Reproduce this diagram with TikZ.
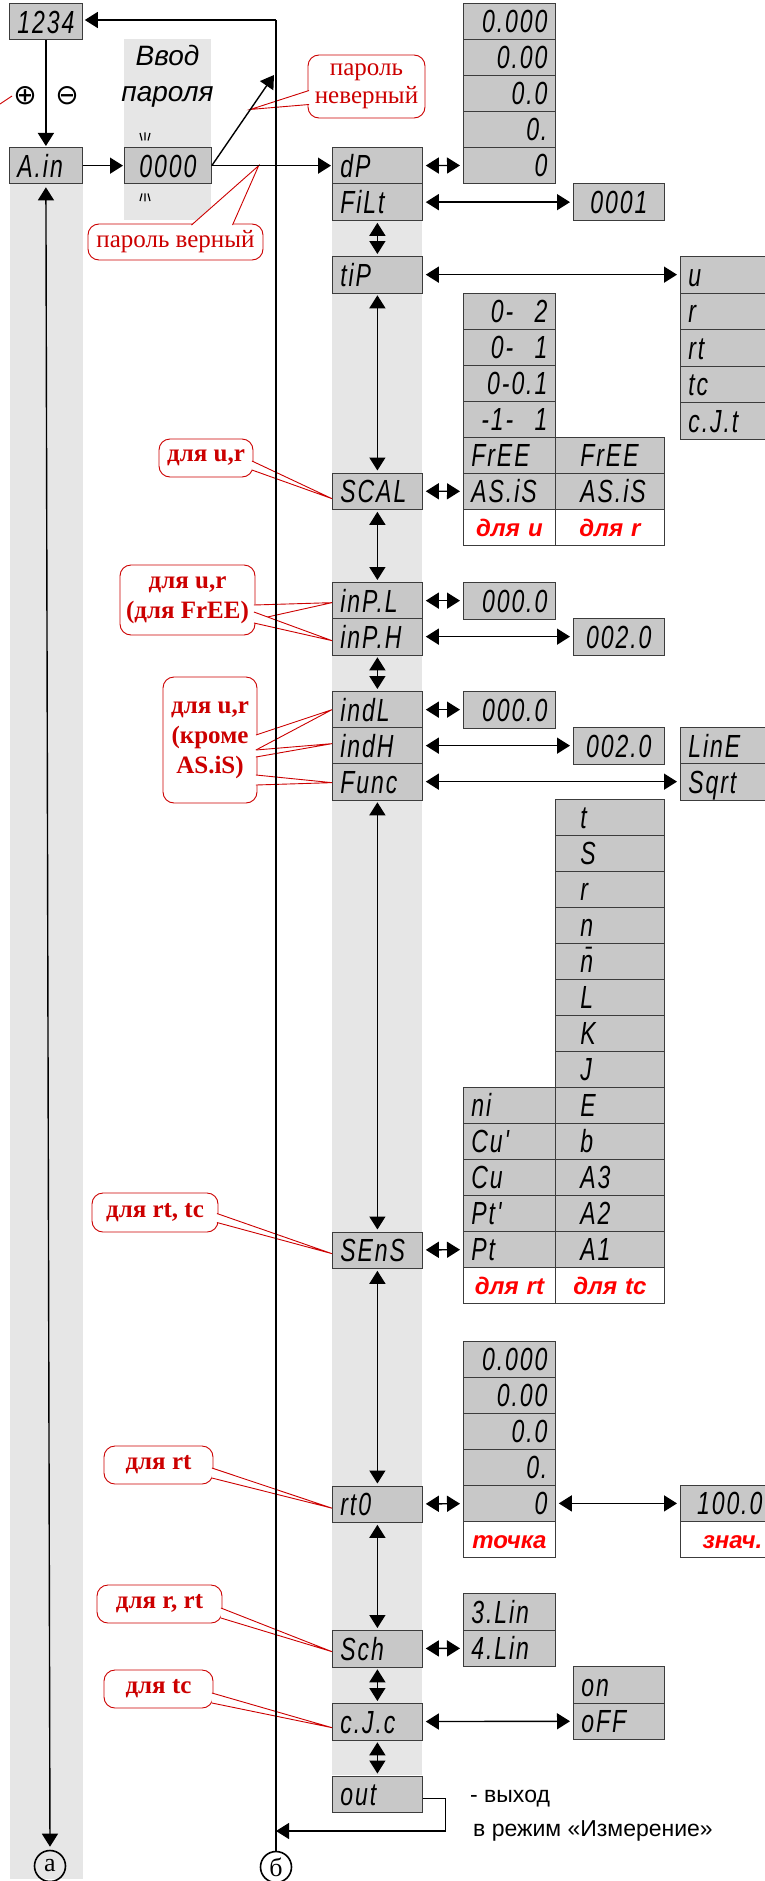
\documentclass[tikz,border=0pt]{standalone}
\usepackage{fontspec}
\setmainfont{Liberation Serif}
\newfontfamily\segf{Liberation Sans}[FakeStretch=0.72, LetterSpace=6]
\newfontfamily\sansf{Liberation Sans}
\newfontfamily\symf{DejaVu Sans}
\usetikzlibrary{arrows.meta,calc}
\definecolor{bgray}{RGB}{200,200,200}
\definecolor{lgray}{RGB}{230,230,230}
\definecolor{bline}{RGB}{60,60,60}
\definecolor{cred}{RGB}{204,0,0}
\definecolor{lred}{RGB}{255,0,0}
\tikzset{
 box/.style={draw=bline, fill=bgray, line width=0.8pt, anchor=north west, minimum height=36.5pt,
   inner xsep=8pt, inner ysep=0pt, text height=23pt, text depth=0pt,
   font=\segf\itshape\fontsize{32}{32}\selectfont},
 L/.style={text width=#1, align=left},
 R/.style={text width=#1, align=right},
 C/.style={text width=#1, align=center},
 tcol/.style={text width=59pt, inner xsep=25pt, align=left},
 note/.style={box, fill=white, text=lred, text height=19pt, font=\sansf\bfseries\itshape\fontsize{24}{24}\selectfont},
 arr/.style={-{Triangle[length=13pt,width=16pt]}, line width=1.4pt},
 darr/.style={{Triangle[length=13pt,width=16pt]}-{Triangle[length=13pt,width=16pt]}, line width=1.4pt, shorten <=3pt, shorten >=3pt},
 callout/.style={draw=cred, fill=white, line width=0.9pt, rounded corners=11pt, align=center, text=cred, inner sep=0pt,
   font=\bfseries\fontsize{25}{30}\selectfont},
 cptr/.style={draw=cred, line width=0.9pt},
 circ/.style={circle, draw, line width=1.6pt, minimum size=31pt, inner sep=0pt, font=\fontsize{26}{26}\selectfont},
}
\newcommand\ptr[3]{\fill[white] #1 -- #3 -- #2 -- cycle; \draw[cptr] #1 -- #3 -- #2;}
\begin{document}
\begin{tikzpicture}[x=1pt,y=-1pt]
\useasboundingbox (0,0) rectangle (765,1881);
% backgrounds
\fill[lgray] (10,183) rectangle (83,1879);
\fill[lgray] (124,39) rectangle (211,220);
\fill[lgray] (332,147) rectangle (422,1775);

% password area
\node[font=\sansf\itshape\fontsize{28}{28}\selectfont, anchor=base, inner sep=0pt] (vvod) at (167.5,66) {Ввод};
\node[font=\sansf\itshape\fontsize{28}{28}\selectfont, anchor=base, inner sep=0pt] (parolya) at (167.5,102) {пароля};
\draw[line width=1.2pt] (140,133) -- (142,140.5) (145,132.5) -- (145,140.5) (150,133) -- (148,140.5);
\draw[line width=1.2pt] (140,201) -- (142,193.5) (145,193.5) -- (145,201.5) (150,201) -- (148,193.5);

% left nodes
\node[box, C=61pt, inner xsep=6pt] (n1234) at (9,3) {1234};
\node[box, L=57pt] (ain) at (9,147) {A.in};
\node[box, C=71pt] (pw) at (124,147) {0000};
\node[font=\symf\fontsize{28}{28}\selectfont, inner sep=1pt] (plus) at (25,96) {⊕};
\node[font=\symf\fontsize{28}{28}\selectfont, inner sep=1pt] (minus) at (67,96) {⊖};
\node[circ] (ca) at (50,1866) {а};
\node[circ] (cb) at (276,1867) {б};

% main column
\node[box, L=74pt] (dP) at (332,147) {dP};
\node[box, L=74pt] (FiLt) at (332,183.5) {FiLt};
\node[box, L=74pt] (tiP) at (332,256) {tiP};
\node[box, L=74pt] (SCAL) at (332,472.5) {SCAL};
\node[box, L=74pt] (inPL) at (332,582) {inP.L};
\node[box, L=74pt] (inPH) at (332,618) {inP.H};
\node[box, L=74pt] (indL) at (332,691) {indL};
\node[box, L=74pt] (indH) at (332,727) {indH};
\node[box, L=74pt] (Func) at (332,763) {Func};
\node[box, L=74pt] (SEnS) at (332,1231.5) {SEnS};
\node[box, L=74pt] (rt0) at (332,1485.5) {rt0};
\node[box, L=74pt] (Sch) at (332,1630) {Sch};
\node[box, L=74pt] (cJc) at (332,1703) {c.J.c};
\node[box, L=74pt] (out) at (332,1775.5) {out};

% dP options
\node[box, R=76pt, minimum height=36pt] (dp1) at (463,3) {0.000};
\node[box, R=76pt, minimum height=36pt] (dp2) at (463,39) {0.00};
\node[box, R=76pt, minimum height=36pt] (dp3) at (463,75) {0.0};
\node[box, R=76pt, minimum height=36pt] (dp4) at (463,111) {0.};
\node[box, R=76pt, minimum height=36pt] (dp5) at (463,147) {0};
% FiLt option
\node[box, C=75pt] (fl1) at (573,183.5) {0001};
% tiP options
\node[box, L=74pt] (tp1) at (680,256) {u};
\node[box, L=74pt] (tp2) at (680,292.5) {r};
\node[box, L=74pt] (tp3) at (680,329) {rt};
\node[box, L=74pt] (tp4) at (680,365.5) {tc};
\node[box, L=74pt] (tp5) at (680,402) {c.J.t};
% SCAL options
\node[box, R=76pt, minimum height=36pt] (sc1) at (463,293) {0-~~2};
\node[box, R=76pt, minimum height=36pt] (sc2) at (463,329) {0-~~1};
\node[box, R=76pt, minimum height=36pt] (sc3) at (463,365) {0-0.1};
\node[box, R=76pt, minimum height=36pt] (sc4) at (463,401) {-1-~~1};
\node[box, L=76pt, minimum height=36pt] (sc5) at (463,437) {FrEE};
\node[box, L=76pt, minimum height=36pt] (sc6) at (463,473) {AS.iS};
\node[note, C=76pt, minimum height=36pt] (sc7) at (463,509) {для u};
\node[box, tcol, minimum height=36pt] (sr5) at (555,437) {FrEE};
\node[box, tcol, minimum height=36pt] (sr6) at (555,473) {AS.iS};
\node[note, C=93pt, minimum height=36pt] (sr7) at (555,509) {для r};
% inP / ind options
\node[box, R=76pt] (ipl1) at (463,582) {000.0};
\node[box, C=75pt] (iph1) at (573,618) {002.0};
\node[box, R=76pt] (idl1) at (463,691) {000.0};
\node[box, C=75pt] (idh1) at (573,727) {002.0};
\node[box, L=74pt] (fn1) at (680,727) {LinE};
\node[box, L=74pt] (fn2) at (680,763) {Sqrt};
% SEnS options: thermocouples
\node[box, tcol, minimum height=36pt] (tc1) at (555,799) {t};
\node[box, tcol, minimum height=36pt] (tc2) at (555,835) {S};
\node[box, tcol, minimum height=36pt] (tc3) at (555,871) {r};
\node[box, tcol, minimum height=36pt] (tc4) at (555,907) {n};
\node[box, tcol, minimum height=36pt] (tc5) at (555,943) {\={n}};
\node[box, tcol, minimum height=36pt] (tc6) at (555,979) {L};
\node[box, tcol, minimum height=36pt] (tc7) at (555,1015) {K};
\node[box, tcol, minimum height=36pt] (tc8) at (555,1051) {J};
\node[box, tcol, minimum height=36pt] (tc9) at (555,1087) {E};
\node[box, tcol, minimum height=36pt] (tc10) at (555,1123) {b};
\node[box, tcol, minimum height=36pt] (tc11) at (555,1159) {A3};
\node[box, tcol, minimum height=36pt] (tc12) at (555,1195) {A2};
\node[box, tcol, minimum height=36pt] (tc13) at (555,1231) {A1};
\node[note, C=93pt, minimum height=36pt] (tc14) at (555,1267) {для tc};
% SEnS options: RTD
\node[box, L=76pt, minimum height=36pt] (rs1) at (463,1087) {ni};
\node[box, L=76pt, minimum height=36pt] (rs2) at (463,1123) {Cu'};
\node[box, L=76pt, minimum height=36pt] (rs3) at (463,1159) {Cu};
\node[box, L=76pt, minimum height=36pt] (rs4) at (463,1195) {Pt'};
\node[box, L=76pt, minimum height=36pt] (rs5) at (463,1231) {Pt};
\node[note, C=76pt, minimum height=36pt] (rs6) at (463,1267) {для rt};
% rt0 options
\node[box, R=76pt, minimum height=36pt] (rp1) at (463,1341) {0.000};
\node[box, R=76pt, minimum height=36pt] (rp2) at (463,1377) {0.00};
\node[box, R=76pt, minimum height=36pt] (rp3) at (463,1413) {0.0};
\node[box, R=76pt, minimum height=36pt] (rp4) at (463,1449) {0.};
\node[box, R=76pt, minimum height=36pt] (rp5) at (463,1485) {0};
\node[note, C=76pt, minimum height=36pt] (rp6) at (463,1521) {точка};
\node[box, R=74pt, minimum height=36pt] (val) at (680,1485) {100.0};
\node[note, R=74pt, minimum height=36pt] (val2) at (680,1521) {знач.};
% Sch options
\node[box, L=76pt] (sh1) at (463,1593) {3.Lin};
\node[box, L=76pt] (sh2) at (463,1629.5) {4.Lin};
% c.J.c options
\node[box, L=75pt] (cj1) at (573,1666) {on};
\node[box, L=75pt] (cj2) at (573,1702.5) {oFF};

% exit text
\node[font=\sansf\fontsize{23}{23}\selectfont, anchor=base west, inner sep=0pt] (ex1) at (470,1802) {- выход};
\node[font=\sansf\fontsize{23}{23}\selectfont, anchor=base west, inner sep=0pt] (ex2) at (473,1836) {в режим «Измерение»};

% coordinates
\coordinate (topL) at (276,20);
\coordinate (wrong) at (274,75);
\coordinate (ret) at (276,1831);
\coordinate (redend) at (0,104);

% callouts
\node[callout, minimum width=117pt, minimum height=63pt, font=\mdseries\fontsize{25}{28}\selectfont] (c1) at (366.5,86.5) {пароль\\неверный};
\node[callout, minimum width=175pt, minimum height=36pt, font=\mdseries\fontsize{25}{28}\selectfont] (c2) at (175.5,242) {пароль верный};
\node[callout, minimum width=94pt, minimum height=38pt] (c3) at (206,458) {для u,r};
\node[callout, minimum width=135pt, minimum height=70pt] (c4) at (187.5,600) {для u,r\\(для FrEE)};
\node[callout, minimum width=94pt, minimum height=126pt] (c5) at (210,740) {для u,r\\(кроме\\AS.iS)};
\node[callout, minimum width=126pt, minimum height=39pt] (c6) at (155,1212.5) {для rt, tc};
\node[callout, minimum width=109pt, minimum height=38pt] (c7) at (158.5,1465) {для rt};
\node[callout, minimum width=125pt, minimum height=38pt] (c8) at (159.5,1604) {для r, rt};
\node[callout, minimum width=109pt, minimum height=38pt] (c9) at (158.5,1689) {для tc};

\ptr{([xshift=1.5pt,yshift=-4pt]c1.west)}{([xshift=1.5pt,yshift=-18pt]c1.west)}{($(pw.east)!0.62!(wrong)$)}
\ptr{([yshift=-1.5pt,xshift=16pt]c2.north)}{([yshift=-1.5pt,xshift=57pt]c2.north)}{($(pw.east)!0.39!(pw.east -| dP.west)$)}
\ptr{([xshift=-1.5pt,yshift=-3pt]c3.east)}{([xshift=-1.5pt,yshift=-12pt]c3.east)}{([yshift=-7.5pt]SCAL.west)}
\ptr{([xshift=-1.5pt,yshift=-5pt]c4.east)}{([xshift=-1.5pt,yshift=-20pt]c4.east)}{([yshift=-2pt]inPL.west)}
\ptr{([xshift=-1.5pt,yshift=-12pt]c4.east)}{([xshift=-1.5pt,yshift=-23pt]c4.east)}{([yshift=-4pt]inPH.west)}
\ptr{([xshift=-1.5pt,yshift=5pt]c5.east)}{([xshift=-1.5pt,yshift=-10pt]c5.east)}{(indL.west)}
\ptr{([xshift=-1.5pt,yshift=-10pt]c5.east)}{([xshift=-1.5pt,yshift=-17pt]c5.east)}{([yshift=2pt]indH.west)}
\ptr{([xshift=-1.5pt,yshift=-35pt]c5.east)}{([xshift=-1.5pt,yshift=-45pt]c5.east)}{([yshift=-1pt]Func.west)}
\ptr{([xshift=-1.5pt,yshift=-1pt]c6.east)}{([xshift=-1.5pt,yshift=-10pt]c6.east)}{([yshift=-3.5pt]SEnS.west)}
\ptr{([xshift=-1.5pt,yshift=-3pt]c7.east)}{([xshift=-1.5pt,yshift=-13pt]c7.east)}{([yshift=-4pt]rt0.west)}
\ptr{([xshift=-1.5pt,yshift=-4pt]c8.east)}{([xshift=-1.5pt,yshift=-14pt]c8.east)}{([yshift=-3pt]Sch.west)}
\ptr{([xshift=-1.5pt,yshift=-4pt]c9.east)}{([xshift=-1.5pt,yshift=-14pt]c9.east)}{([yshift=-6pt]cJc.west)}
\draw[cptr] (redend) -- (plus.west);

% black connectors
\draw[line width=1.4pt] (topL) -- (cb.north);
\draw[arr, shorten >=2pt] (topL) -- (topL -| n1234.east);
\draw[arr, shorten >=1pt] (n1234) -- (ain);
\draw[darr] (ain.south) -- (ca.north);
\draw[arr, shorten >=1pt] (ain) -- (pw);
\draw[arr, shorten >=1pt] (pw.east) -- (pw.east -| dP.west);
\draw[arr] (pw.east) -- (wrong);
\draw[arr, line width=1.1pt] ([yshift=-4pt]out.east) -- ++(23,0) |- (ret);

\draw[darr, shorten <=2pt, shorten >=2pt] (FiLt) -- (tiP);
\draw[darr, shorten <=2pt, shorten >=2pt] (tiP) -- (SCAL);
\draw[darr, shorten <=2pt, shorten >=2pt] (SCAL) -- (inPL);
\draw[darr, shorten <=2pt, shorten >=2pt] (inPH) -- (indL);
\draw[darr, shorten <=2pt, shorten >=2pt] (Func) -- (SEnS);
\draw[darr, shorten <=2pt, shorten >=2pt] (SEnS) -- (rt0);
\draw[darr, shorten <=2pt, shorten >=2pt] (rt0) -- (Sch);
\draw[darr, shorten <=2pt, shorten >=2pt] (Sch) -- (cJc);
\draw[darr, shorten <=2pt, shorten >=2pt] (cJc) -- (out);

\draw[darr] (dP) -- (dp5);
\draw[darr] (FiLt) -- (fl1);
\draw[darr] (tiP) -- (tp1);
\draw[darr] (SCAL) -- (sc6);
\draw[darr] (inPL) -- (ipl1);
\draw[darr] (inPH) -- (iph1);
\draw[darr] (indL) -- (idl1);
\draw[darr] (indH) -- (idh1);
\draw[darr] (Func) -- (fn2);
\draw[darr] (SEnS) -- (rs5);
\draw[darr] (rt0) -- (rp5);
\draw[darr] (rp5) -- (val);
\draw[darr] (Sch) -- (sh2);
\draw[darr] (cJc) -- (cj2);
\end{tikzpicture}
\end{document}
